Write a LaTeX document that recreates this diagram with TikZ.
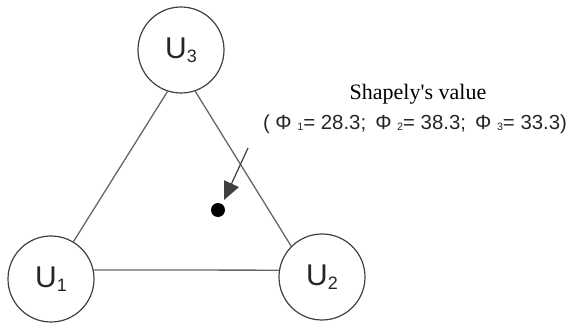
\documentclass[tikz,border=0pt]{standalone}
\usepackage{fontspec}
\setmainfont{Liberation Serif}
\newfontfamily\arial{Liberation Sans}
\usetikzlibrary{arrows.meta}
\newcommand{\usub}[1]{\raisebox{-4pt}{\fontsize{18}{18}\selectfont #1}}
\newcommand{\psub}[1]{\raisebox{-1pt}{\fontsize{11}{11}\selectfont #1}}
\begin{document}
\begin{tikzpicture}[x=1pt,y=-1pt,
  player/.style={circle, draw=black!75, line width=1.2pt, minimum size=86pt, inner sep=0pt,
    font=\arial\fontsize{30}{30}\selectfont, text=black!85},
  edge/.style={draw=black!60, line width=1.3pt}]
\useasboundingbox (0,0) rectangle (571,323);
\node[player] (u3) at (181,50) {U\usub{3}};
\node[player] (u1) at (51,279) {U\usub{1}};
\node[player] (u2) at (322,277) {U\usub{2}};
\draw[edge] (u3.252) -- (u1.59);
\draw[edge] (u3.289) -- (u2.135);
\draw[edge] (u1.12) -- (u2.171);
\node[circle, fill=black, minimum size=14pt, inner sep=0pt] (dot) at (218,210) {};
\coordinate (as) at (248,148);
\coordinate (ae) at (224,200);
\draw[-{Triangle[length=18pt,width=16pt]}, line width=1.2pt, draw=black!75, fill=black] (as) -- (ae);
\node[anchor=base, inner sep=0pt] (title) at (418,100) {\fontsize{22}{22}\selectfont Shapely\textquotesingle s value};
\node[anchor=base, inner sep=0pt, text=black!85] (vals) at (415,130)
  {\resizebox{304pt}{!}{\arial\fontsize{21}{21}\selectfont ( Φ \psub{1}= 28.3; \,Φ \psub{2}= 38.3; \,Φ \psub{3}= 33.3)}};
\end{tikzpicture}
\end{document}
